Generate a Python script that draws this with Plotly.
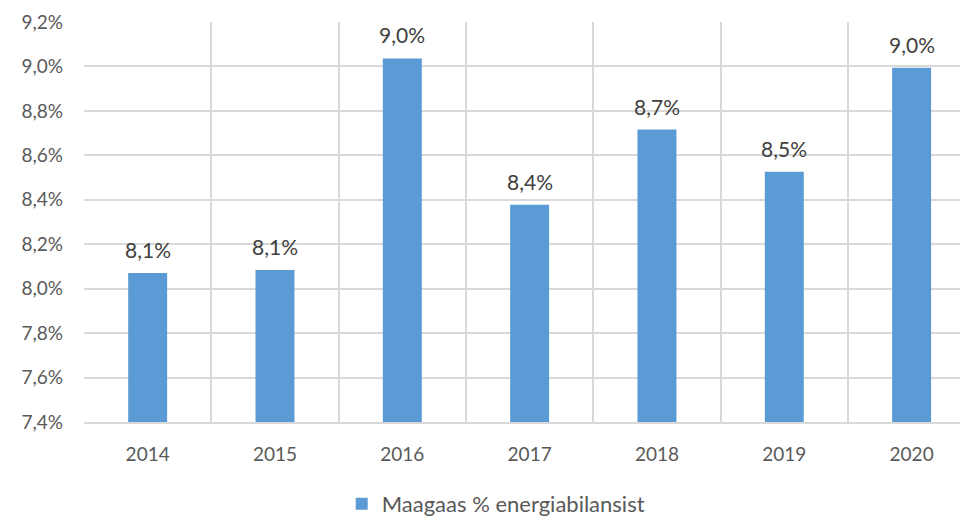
import plotly.graph_objects as go

years = ["2014", "2015", "2016", "2017", "2018", "2019", "2020"]
share = [0.08071, 0.08084, 0.09036, 0.08378, 0.08716, 0.08526, 0.08994]
series_name = "Maagaas % energiabilansist"

fig = go.Figure()
fig.add_trace(go.Bar(
    x=years, y=share, name=series_name,
    marker=dict(color="#5B9BD5", line=dict(width=0)),
    width=0.306,
))

for i, v in enumerate(share):
    fig.add_annotation(
        x=i, y=v, xref="x", yref="y",
        text=f"{v*100:.1f}%".replace(".", ","),
        showarrow=False, yanchor="bottom", yshift=9,
        font=dict(family="Lato", size=21, color="#404040"),
    )

fig.update_layout(
    width=960, height=517,
    margin=dict(l=84, r=0, t=22, b=95, autoexpand=False),
    plot_bgcolor="white", paper_bgcolor="white",
    separators=", ",
    showlegend=True,
    legend=dict(orientation="h", x=0.47, xanchor="center", y=-0.205, yanchor="middle",
                itemwidth=30,
                font=dict(family="Lato", size=22, color="#595959")),
    xaxis=dict(type="category", range=[-0.5, 6.38], tickson="boundaries",
               automargin=False,
               showgrid=True, gridcolor="#d9d9d9", gridwidth=1.6,
               showline=True, linecolor="#d9d9d9", linewidth=1.6,
               ticks="", ticklabelstandoff=14,
               tickfont=dict(family="Lato", size=19, color="#595959")),
    yaxis=dict(range=[0.074, 0.092], dtick=0.002, tickformat=".1%",
               automargin=False,
               showgrid=True, gridcolor="#d9d9d9", gridwidth=1.6,
               zeroline=False, ticks="", ticklabelstandoff=20,
               tickfont=dict(family="Lato", size=19, color="#595959")),
)

fig.write_html("out.html", config={"displayModeBar": False},
               post_script="document.body.style.margin='0';")
